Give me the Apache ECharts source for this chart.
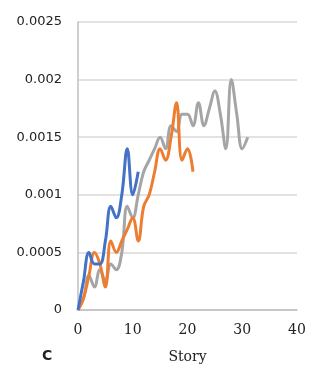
<!DOCTYPE html>
<html>
<head>
<meta charset="utf-8">
<script src="https://cdn.jsdelivr.net/npm/echarts@6/dist/echarts.min.js"></script>
<style>
  html, body { margin: 0; padding: 0; background: #fff; }
  #chart { width: 330px; height: 392px; }
</style>
</head>
<body>
<div id="chart"></div>
<script>
// Inter-story drift per story for three building models
const seriesNames = ['Model A', 'Model B', 'Model C'];
const seriesColors = ['#4472C4', '#ED7D31', '#A5A5A5'];

const driftA = [0, 0.00025, 0.0005, 0.0004, 0.0004, 0.0006, 0.0009, 0.0008, 0.001, 0.0014, 0.001, 0.0012];
const driftB = [0, 0.0001, 0.0003, 0.0005, 0.0004, 0.0002, 0.0006, 0.0005, 0.0006, 0.0007, 0.0008, 0.0006,
                0.0009, 0.001, 0.0012, 0.0014, 0.0013, 0.0015, 0.0018, 0.0013, 0.0014, 0.0012];
const driftC = [0, 0.0001, 0.0003, 0.0002, 0.00035, 0.00025, 0.0004, 0.00035, 0.0005, 0.0009, 0.0008, 0.001,
                0.0012, 0.0013, 0.0014, 0.0015, 0.0014, 0.0016, 0.00155, 0.0017, 0.0017, 0.0016, 0.0018, 0.0016,
                0.00175, 0.0019, 0.0017, 0.0014, 0.002, 0.0017, 0.0014, 0.0015];

const xTicks = { min: 0, max: 40, step: 10 };
const yTicks = { min: 0, max: 0.0025, step: 0.0005 };

const drifts = [driftA, driftB, driftC];

const chart = echarts.init(document.getElementById('chart'), null, { renderer: 'canvas' });

chart.setOption({
  animation: false,
  backgroundColor: '#ffffff',
  grid: { left: 78, right: 33, top: 22, bottom: 82, containLabel: false },
  graphic: [
    {
      type: 'text', left: 42, top: 349,
      style: { text: 'C', font: 'bold 14px "DejaVu Sans"', fill: '#222' }
    }
  ],
  xAxis: {
    type: 'value',
    min: xTicks.min, max: xTicks.max, interval: xTicks.step,
    name: 'Story',
    nameLocation: 'middle',
    nameGap: 40,
    nameTextStyle: { fontFamily: 'DejaVu Serif', fontSize: 14, color: '#222' },
    axisLine: { show: true, lineStyle: { color: '#BFBFBF', width: 1.5 } },
    axisTick: { show: false },
    splitLine: { show: false },
    axisLabel: { fontFamily: 'DejaVu Serif', fontSize: 14, color: '#222', margin: 13 }
  },
  yAxis: {
    type: 'value',
    min: yTicks.min, max: yTicks.max, interval: yTicks.step,
    axisLine: { show: true, lineStyle: { color: '#BFBFBF', width: 1.5 } },
    axisTick: { show: false },
    splitLine: { show: true, lineStyle: { color: '#D9D9D9', width: 1.5 } },
    axisLabel: {
      fontFamily: 'DejaVu Sans', fontSize: 13, color: '#222', margin: 16,
      formatter: v => String(+v.toFixed(4))
    }
  },
  series: drifts.map((d, k) => ({
    name: seriesNames[k],
    type: 'line',
    smooth: 0.4,
    symbol: 'none',
    z: 5 - k,
    lineStyle: { color: seriesColors[k], width: 3 },
    data: d.map((v, i) => [i, v])
  }))
});
</script>
</body>
</html>
